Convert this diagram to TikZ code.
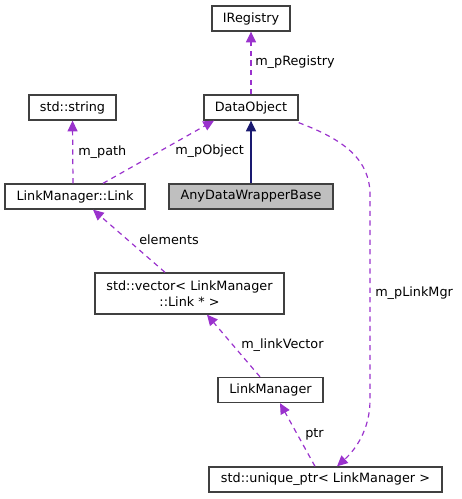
\documentclass[tikz,border=0pt]{standalone}
\usepackage{fontspec}
\setmainfont{DejaVu Sans}
\usepackage{xcolor}
\usepackage{tikz}
\usetikzlibrary{arrows.meta,calc}

\definecolor{edgepurple}{HTML}{9A32CD}
\definecolor{edgenavy}{HTML}{191970}
\definecolor{boxline}{HTML}{404040}
\definecolor{boxfill}{HTML}{BFBFBF}

\tikzset{
  cls/.style={draw=boxline, fill=white, line width=1pt, minimum height=18.75pt, inner sep=1pt, font=\fontsize{9.6}{11.5}\selectfont},
  member/.style={edgepurple, line width=0.9pt, dash pattern=on 3.9pt off 3.3pt, -{Triangle[length=8pt,width=7.5pt]}},
  inherit/.style={edgenavy, line width=0.9pt, -{Triangle[length=8pt,width=7.5pt]}},
  lbl/.style={anchor=west, inner sep=0pt, font=\fontsize{9.6}{11.5}\selectfont}
}

\begin{document}
\begin{tikzpicture}[x=0.75pt,y=-0.75pt]
\useasboundingbox (0,0) rectangle (461,499);

\node[cls, minimum width=58.5pt] (ireg) at (251,18.5) {IRegistry};
\node[cls, minimum width=65.25pt] (str) at (72.5,107.5) {std::string};
\node[cls, minimum width=70.5pt] (dobj) at (251,107.5) {DataObject};
\node[cls, minimum width=105pt] (link) at (75,196.5) {LinkManager::Link};
\node[cls, minimum width=123pt, fill=boxfill] (wrap) at (251,196.5) {AnyDataWrapperBase};
\node[cls, minimum width=141.75pt, minimum height=30.75pt, align=center] (vec) at (189.5,293.5) {std::vector\textless{} LinkManager\\::Link * \textgreater{}};
\node[cls, minimum width=78.75pt] (lmgr) at (270.5,390) {LinkManager};
\node[cls, minimum width=174.75pt] (uptr) at (325.5,479.5) {std::unique\_ptr\textless{} LinkManager \textgreater{}};

\draw[member] (dobj.north) -- (ireg.south);
\node[lbl] (lregistry) at (255,62) {m\_pRegistry};

\draw[member] ($(link.north)+(-2,0)$) -- (str.south);
\node[lbl] (lpath) at (78,152) {m\_path};

\draw[member] ($(link.north)+(28,0)$) -- ($(dobj.south)+(-37,0)$);
\node[lbl] (lobject) at (175,151) {m\_pObject};

\draw[inherit] (wrap.north) -- (dobj.south);

\draw[member] ($(vec.north)+(-24.5,0)$) -- ($(link.south)+(18,0)$);
\node[lbl] (lelements) at (139,240) {elements};

\draw[member] ($(lmgr.north)+(-10.5,0)$) -- ($(vec.south)+(17.5,0)$);
\node[lbl] (lvector) at (241,345) {m\_linkVector};

\draw[member] ($(uptr.north)+(-10.5,0)$) -- ($(lmgr.south)+(9.5,0)$);
\node[lbl] (lptr) at (305,434) {ptr};

\draw[member] ($(dobj.south east)+(0,2)$) .. controls (345,140) and (370,160) .. (370,195) -- (370,400) .. controls (370,430) and (355,450) .. ($(uptr.north)+(11.5,0)$);
\node[lbl] (lmgrlabel) at (375,293) {m\_pLinkMgr};

\end{tikzpicture}
\end{document}
